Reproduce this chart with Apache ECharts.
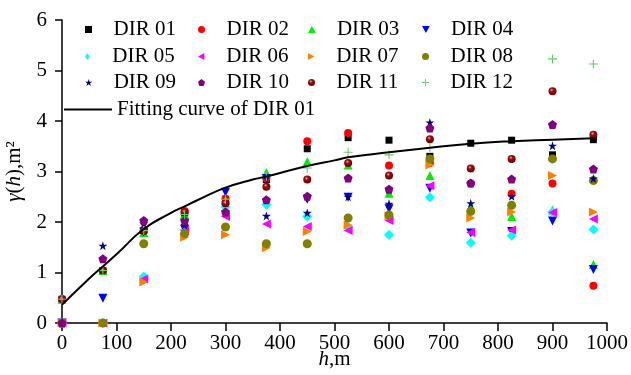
<!DOCTYPE html>
<html>
<head>
<meta charset="utf-8">
<script src="https://cdn.jsdelivr.net/npm/echarts@6/dist/echarts.min.js"></script>
<style>
  html, body { margin: 0; padding: 0; background: #fff; }
  #myCharts { width: 631px; height: 375px; }
</style>
</head>
<body>
<div id="myCharts"></div>
<script>
// lag distances (m)
let lagList = [0, 75, 150, 225, 300, 375, 450, 525, 600, 675, 750, 825, 900, 975];
let dirNames = ["DIR 01", "DIR 02", "DIR 03", "DIR 04", "DIR 05", "DIR 06",
  "DIR 07", "DIR 08", "DIR 09", "DIR 10", "DIR 11", "DIR 12"];

let dir01 = [0.47, 1.04, 1.83, 2.16, 2.45, 2.84, 3.45, 3.67, 3.62, 3.30, 3.56, 3.62, 3.33, 3.63];
let dir02 = [0.47, 1.04, 1.83, 2.22, 2.46, 2.86, 3.60, 3.76, 3.12, 3.17, 2.76, 2.56, 2.76, 0.74];
let dir03 = [0.47, 1.04, 1.79, 2.15, 2.43, 2.98, 3.20, 3.13, 2.57, 2.92, 2.29, 2.11, 2.24, 1.16];
let dir04 = [0, 0.49, 1.80, 1.85, 2.59, 2.86, 2.45, 2.49, 2.26, 2.67, 1.78, 1.81, 2.02, 1.06];
let dir05 = [0, 0, 0.92, 1.84, 2.30, 2.34, 2.11, 1.90, 1.75, 2.49, 1.59, 1.73, 2.20, 1.85];
let dir06 = [0, 0, 0.87, 1.83, 2.11, 1.96, 1.91, 1.83, 2.03, 2.72, 1.79, 1.84, 2.19, 2.06];
let dir07 = [0, 0, 0.81, 1.70, 1.75, 1.49, 1.81, 1.94, 2.12, 3.13, 2.08, 2.20, 2.92, 2.20];
let dir08 = [0, 0, 1.57, 1.77, 1.90, 1.57, 1.57, 2.08, 2.14, 3.25, 2.21, 2.33, 3.25, 2.82];
let dir09 = [0, 1.53, 1.97, 1.94, 2.38, 2.12, 2.18, 2.50, 2.36, 3.97, 2.37, 2.51, 3.51, 2.86];
let dir10 = [0, 1.27, 2.03, 2.03, 2.20, 2.44, 2.51, 2.87, 2.65, 3.86, 2.77, 2.85, 3.93, 3.05];
let dir11 = [0.47, 1.04, 1.82, 2.19, 2.37, 2.70, 2.84, 3.17, 2.92, 3.64, 3.06, 3.25, 4.59, 3.73];
let dir12 = [0.47, 1.04, 1.83, 2.15, 2.45, 2.90, 3.07, 3.38, 3.33, 3.47, null, null, 5.23, 5.13];

// fitting curve of DIR 01
let fitH = [0, 50, 75, 100, 150, 200, 225, 250, 300, 350, 375, 400, 450, 500, 525, 600, 675, 750, 825, 900, 975];
let fitV = [0.36, 0.88, 1.12, 1.36, 1.86, 2.18, 2.31, 2.44, 2.68, 2.84, 2.90, 2.97, 3.11, 3.22, 3.28, 3.38, 3.47, 3.55, 3.60, 3.63, 3.66];

let xTicks = [0, 1000, 100];
let yTicks = [0, 6, 1];

let allData = [dir01, dir02, dir03, dir04, dir05, dir06, dir07, dir08, dir09, dir10, dir11, dir12];

const font = "Liberation Serif";
const fs = 21;
const sym = [
  { s: "path://M0,0H10V10H0Z", size: 7, color: "#000000" },
  { s: "circle", size: 8, color: "#ff0000" },
  { s: "path://M5,0L10,9L0,9Z", size: 9, color: "#00ee00" },
  { s: "path://M0,0L10,0L5,9Z", size: 9, color: "#0000ff" },
  { s: "path://M5,0L9,6L5,12L1,6Z", size: 10, color: "#00ffff" },
  { s: "path://M9,0L9,10L0,5Z", size: 9, color: "#ff00ff" },
  { s: "path://M0,0L9,5L0,10Z", size: 9, color: "#ff8000" },
  { s: "circle", size: 9, color: "#808000" },
  { s: "path://M5,0L6.18,3.62L10,3.62L6.91,5.86L8.09,9.51L5,7.27L1.91,9.51L3.09,5.86L0,3.62L3.82,3.62Z", size: 9, color: "#000080" },
  { s: "path://M5,0L10,3.8L8.1,10L1.9,10L0,3.8Z", size: 9, color: "#800080" },
  { s: "circle", size: 8, color: new echarts.graphic.RadialGradient(0.4, 0.35, 0.6, [
      { offset: 0, color: "#e8b0b0" },
      { offset: 0.35, color: "#a01010" },
      { offset: 1, color: "#6a0000" },
    ]) },
  { s: "path://M4.4,0H5.6V4.4H10V5.6H5.6V10H4.4V5.6H0V4.4H4.4Z", size: 9, color: "#66cc66" },
];

let series = dirNames.map(function (name, i) {
  return {
    name: name,
    type: "scatter",
    symbol: sym[i].s,
    symbolSize: sym[i].size,
    itemStyle: { color: sym[i].color, opacity: 1 },
    data: lagList.map(function (h, j) {
      return allData[i][j] == null ? null : [h, allData[i][j]];
    }),
  };
});

series.push({
  name: "Fitting curve of DIR 01",
  type: "line",
  smooth: true,
  symbol: "none",
  lineStyle: { color: "#000", width: 2 },
  itemStyle: { color: "#000" },
  z: 3,
  data: fitH.map(function (h, j) { return [h, fitV[j]]; }),
});

// one legend per entry: 4 columns x 3 rows
const colLeft = [85, 198, 308, 422];
const rowTop = [19, 46, 72];
let legends = dirNames.map(function (name, i) {
  return {
    data: [name],
    left: colLeft[i % 4],
    top: rowTop[Math.floor(i / 4)],
    padding: 0,
    itemWidth: 40,
    itemHeight: 7,
    selectedMode: false,
    textStyle: { fontFamily: font, fontSize: fs, color: "#000" },
  };
});
legends.push({
  data: [{ name: "Fitting curve of DIR 01", icon: "path://M0,0H48V2H0Z" }],
  left: 64,
  top: 99,
  padding: 0,
  itemWidth: 48,
  itemHeight: 10,
  selectedMode: false,
  textStyle: { fontFamily: font, fontSize: fs, color: "#000" },
});

let option = {
  animation: false,
  backgroundColor: "#fff",
  grid: { left: 62, right: 24, top: 20, bottom: 52, outerBoundsMode: "none" },
  legend: legends,
  xAxis: {
    type: "value",
    min: xTicks[0],
    max: xTicks[1],
    interval: xTicks[2],
    name: "{i|h},m",
    nameLocation: "middle",
    nameGap: 26,
    nameMoveOverlap: false,
    nameTextStyle: {
      fontFamily: font, fontSize: fs, color: "#000",
      rich: { i: { fontFamily: font, fontSize: fs, fontStyle: "italic", color: "#000" } },
    },
    axisLine: { lineStyle: { color: "#000", width: 1.5 } },
    axisTick: { length: 8, lineStyle: { color: "#000", width: 1.5 } },
    axisLabel: {
      margin: 10, fontFamily: font, fontSize: fs, color: "#000",
      formatter: function (v) { return String(v); },
    },
    splitLine: { show: false },
  },
  yAxis: {
    type: "value",
    min: yTicks[0],
    max: yTicks[1],
    interval: yTicks[2],
    name: "{i|γ}({i|h}),m²",
    nameLocation: "middle",
    nameGap: 37,
    nameMoveOverlap: false,
    nameTextStyle: {
      fontFamily: font, fontSize: fs, color: "#000",
      rich: { i: { fontFamily: font, fontSize: fs, fontStyle: "italic", color: "#000" } },
    },
    axisLine: { show: true, lineStyle: { color: "#000", width: 1.5 } },
    axisTick: { show: true, length: 7, lineStyle: { color: "#000", width: 1.5 } },
    axisLabel: { margin: 15, fontFamily: font, fontSize: fs, color: "#000" },
    splitLine: { show: false },
  },
  series: series,
};

let myChart = echarts.init(document.getElementById("myCharts"));
myChart.setOption(option);
</script>
</body>
</html>
